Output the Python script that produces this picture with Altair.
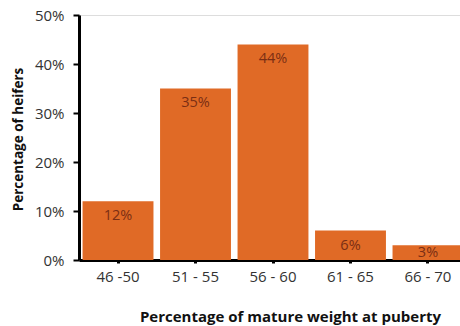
import altair as alt
import pandas as pd

categories = ["46 -50", "51 - 55", "56 - 60", "61 - 65", "66 - 70"]
shares = [0.12, 0.35, 0.44, 0.06, 0.03]
labels = ["12%", "35%", "44%", "6%", "3%"]
y_ticks = [i * 0.05 for i in range(11)]

df = pd.DataFrame({"cat": categories, "value": shares, "label": labels})

FONT = "Open Sans"

xscale = alt.Scale(domain=categories, range=[0, 388], paddingInner=0.085, paddingOuter=0.046)
yscale = alt.Scale(domain=[0, 0.5], nice=False)

base = alt.Chart(df)

bars = base.mark_bar(color="#E06A26").encode(
    x=alt.X("cat:N", scale=xscale, sort=categories,
            axis=alt.Axis(title="Percentage of mature weight at puberty", labelAngle=0,
                          labelFontSize=15, labelColor="#333333", labelFont=FONT,
                          titleFont=FONT, titleFontSize=15, titleFontWeight="bold",
                          titleColor="#111111", titleX=211, titleY=56,
                          titleAlign="center", titleBaseline="middle",
                          domainColor="#000000", domainWidth=3,
                          tickColor="#000000", tickWidth=3, tickSize=3,
                          labelPadding=6)),
    y=alt.Y("value:Q", scale=yscale,
            axis=alt.Axis(title="Percentage of heifers", values=y_ticks,
                          labelExpr="round(datum.value*100) % 10 == 0 ? format(datum.value, '.0%') : ''",
                          labelFontSize=15, labelColor="#333333", labelFont=FONT,
                          titleFont=FONT, titleFontSize=13.5, titleFontWeight="bold",
                          titleColor="#111111", titleX=-61, titleY=124,
                          titleAlign="center", titleBaseline="middle",
                          domainColor="#000000", domainWidth=3,
                          tickColor="#000000", tickWidth=2, tickSize=6,
                          labelPadding=9, grid=False)),
)

text = base.transform_calculate(
    ly="max(datum.value - 0.0306, 0.0143)"
).mark_text(font=FONT, fontSize=14.5, color="#7A2E14", baseline="middle").encode(
    x=alt.X("cat:N", scale=xscale, sort=categories),
    y=alt.Y("ly:Q", scale=yscale),
    text="label:N",
)

chart = (bars + text).properties(
    width=381, height=245,
    autosize=alt.AutoSizeParams(type="none"),
    padding={"left": 79, "top": 15, "right": 0, "bottom": 66},
).configure_view(stroke=None).configure(background="white")

chart.save("out.html", embed_options={"renderer": "svg", "actions": False})
